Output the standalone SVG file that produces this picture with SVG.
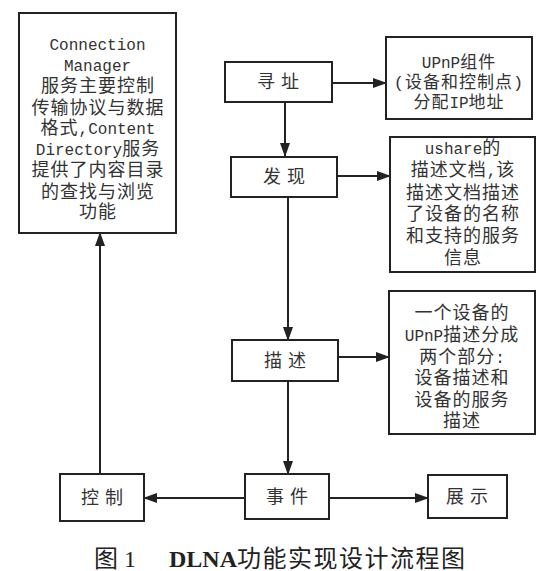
<svg xmlns="http://www.w3.org/2000/svg" width="554" height="571" viewBox="0 0 554 571">
<style>
.box{fill:#fff;stroke:#222;stroke-width:2}
.t{font-family:"Liberation Mono","Noto Sans CJK SC",monospace;font-size:18px;fill:#333;text-anchor:middle;letter-spacing:1px}
.l{font-size:16px;letter-spacing:0}
.lbl{font-family:"Noto Sans CJK SC",sans-serif;font-size:18px;fill:#333;text-anchor:middle;letter-spacing:6px}
.cap{font-family:"Liberation Serif","Noto Sans CJK SC",serif;font-size:24px;fill:#222}
.c{stroke:#222;stroke-width:2;fill:none;marker-end:url(#ah)}
</style>
<defs>
<marker id="ah" markerWidth="14" markerHeight="10" refX="13" refY="5" orient="auto" markerUnits="userSpaceOnUse">
<path d="M0,0 L14,5 L0,10 Z" fill="#222"/>
</marker>
</defs>
<rect width="554" height="571" fill="#fff"/>
<g id="connectors">
<line class="c" x1="332" y1="83" x2="386" y2="83"/>
<line class="c" x1="285" y1="102" x2="285" y2="156"/>
<line class="c" x1="337" y1="176" x2="390" y2="176"/>
<line class="c" x1="288" y1="197" x2="288" y2="340"/>
<line class="c" x1="338" y1="357" x2="389" y2="357"/>
<line class="c" x1="288" y1="381" x2="288" y2="474"/>
<line class="c" x1="245" y1="498" x2="144" y2="498"/>
<line class="c" x1="329" y1="498" x2="428" y2="498"/>
<line class="c" x1="100" y1="474" x2="100" y2="233"/>
</g>
<g id="node-cm">
<rect class="box" x="19" y="13" width="157" height="220"/>
<text class="t"><tspan class="l" x="97.5" y="50">Connection</tspan><tspan class="l" x="97.5" y="71">Manager</tspan><tspan x="98" y="92">服务主要控制</tspan><tspan x="98" y="114">传输协议与数据</tspan><tspan x="98" y="134">格式<tspan class="l">,Content</tspan></tspan><tspan x="98" y="155"><tspan class="l">Directory</tspan>服务</tspan><tspan x="98" y="176">提供了内容目录</tspan><tspan x="98" y="198">的查找与浏览</tspan><tspan x="98" y="218">功能</tspan></text>
</g>
<g id="node-addr">
<rect class="box" x="225" y="62" width="107" height="40"/>
<text class="lbl" x="281" y="88">寻址</text>
</g>
<g id="node-upnp">
<rect class="box" x="386" y="37" width="146" height="82"/>
<text class="t" style="font-size:17px"><tspan x="459" y="68"><tspan class="l">UPnP</tspan>组件</tspan><tspan x="459" y="88">(设备和控制点)</tspan><tspan x="459" y="108">分配<tspan class="l">IP</tspan>地址</tspan></text>
</g>
<g id="node-disc">
<rect class="box" x="231" y="157" width="106" height="40"/>
<text class="lbl" x="287" y="183">发现</text>
</g>
<g id="node-ushare">
<rect class="box" x="390" y="137" width="145" height="135"/>
<text class="t"><tspan x="463" y="154"><tspan class="l">ushare</tspan>的</tspan><tspan x="463" y="176">描述文档<tspan class="l">,</tspan>该</tspan><tspan x="463" y="199">描述文档描述</tspan><tspan x="463" y="220">了设备的名称</tspan><tspan x="463" y="242">和支持的服务</tspan><tspan x="463" y="264">信息</tspan></text>
</g>
<g id="node-desc">
<rect class="box" x="232" y="340" width="106" height="41"/>
<text class="lbl" x="288" y="367">描述</text>
</g>
<g id="node-descinfo">
<rect class="box" x="389" y="291" width="146" height="143"/>
<text class="t"><tspan x="462" y="319">一个设备的</tspan><tspan x="462" y="341"><tspan class="l">UPnP</tspan>描述分成</tspan><tspan x="462" y="363">两个部分<tspan class="l">:</tspan></tspan><tspan x="462" y="384">设备描述和</tspan><tspan x="462" y="406">设备的服务</tspan><tspan x="462" y="427">描述</tspan></text>
</g>
<g id="node-ctrl">
<rect class="box" x="60" y="474" width="84" height="47"/>
<text class="lbl" x="105" y="504">控制</text>
</g>
<g id="node-event">
<rect class="box" x="245" y="474" width="84" height="45"/>
<text class="lbl" x="290" y="503">事件</text>
</g>
<g id="node-show">
<rect class="box" x="428" y="475" width="79" height="43"/>
<text class="lbl" x="470" y="503">展示</text>
</g>
<text class="cap" x="94" y="567">图 1</text>
<text class="cap" x="169" y="567"><tspan font-weight="bold">DLNA</tspan><tspan letter-spacing="1.5">功能实现设计流程图</tspan></text>
</svg>
